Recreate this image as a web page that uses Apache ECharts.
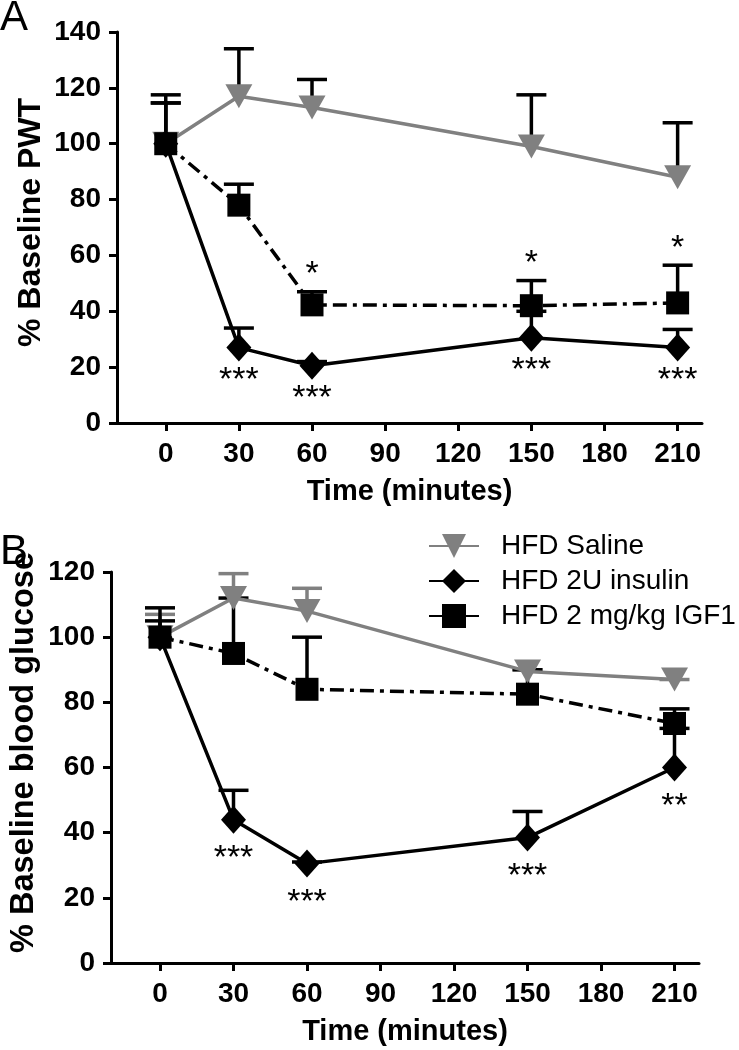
<!DOCTYPE html>
<html>
<head>
<meta charset="utf-8">
<script src="https://cdn.jsdelivr.net/npm/echarts@6/dist/echarts.min.js"></script>
<style>
html,body{margin:0;padding:0;background:#fff;}
#chart{width:739px;height:1050px;}
</style>
</head>
<body>
<div id="chart"></div>
<script>
// ---- Data ----
const times = [0, 30, 60, 150, 210];
const xTicks = [0, 30, 60, 90, 120, 150, 180, 210];
const seriesNames = ['HFD Saline', 'HFD 2U insulin', 'HFD 2 mg/kg IGF1'];

// Panel A: % Baseline PWT (mean, upper error)
const salineA = [100, 117, 113, 99, 88];
const salineAErr = [114.6, 134, 123, 117.5, 107.5];
const insulinA = [100, 27, 20.5, 30.5, 27];
const insulinAErr = [117.5, 34, 22, 40, 33.5];
const igfA = [100, 78, 42.3, 42, 43];
const igfAErr = [114.6, 85.5, 47, 51, 56.5];
const starsAInsulin = ['', '***', '***', '***', '***'];
const starsAIgf = ['', '', '*', '*', '*'];

// Panel B: % Baseline blood glucose
const salineB = [100, 112, 108, 89.5, 87];
const salineBErr = [107, 119.5, 115, 90, 87];
const insulinB = [100, 44, 30.5, 38.5, 60];
const insulinBErr = [109, 53, 31, 46.5, 72];
const igfB = [100, 95, 84, 82.5, 73.5];
const igfBErr = [105, 112, 100, 90, 78];
const starsBInsulin = ['', '***', '***', '***', '**'];

const yTicksA = {min: 0, max: 140, interval: 20};
const yTicksB = {min: 0, max: 120, interval: 20};

// ---- Styles ----
const FONT = 'Liberation Sans, Arial, sans-serif';
const GRAY = '#808080';
const BLACK = '#000000';

function xAxisDef(gi){
  return {
    gridIndex: gi, type: 'value', min: -20, max: 220,
    axisLine: {show: true, onZero: false, lineStyle: {color: BLACK, width: 3}},
    axisTick: {show: true, interval: 0, customValues: xTicks, length: 8, lineStyle: {color: BLACK, width: 3}},
    axisLabel: {interval: 0, hideOverlap: false, customValues: xTicks, color: BLACK, fontSize: 28, fontWeight: 'bold', fontFamily: FONT, margin: 17},
    splitLine: {show: false},
    name: 'Time (minutes)', nameLocation: 'middle', nameGap: 54,
    nameTextStyle: {color: BLACK, fontSize: 29, fontWeight: 'bold', fontFamily: FONT}
  };
}
function yAxisDef(gi, t, name, fs, shiftPad){
  return {
    gridIndex: gi, type: 'value', min: t.min, max: t.max, interval: t.interval,
    axisLine: {show: true, onZero: false, lineStyle: {color: BLACK, width: 3}},
    axisTick: {show: true, length: 8, lineStyle: {color: BLACK, width: 3}},
    axisLabel: {color: BLACK, fontSize: 28, fontWeight: 'bold', fontFamily: FONT, margin: 16},
    splitLine: {show: false},
    name: name, nameLocation: 'middle', nameGap: 70, nameRotate: 90, nameMoveOverlap: false,
    nameTextStyle: {color: BLACK, fontSize: fs, fontWeight: 'bold', fontFamily: FONT, padding: [0, 0, 0, shiftPad]}
  };
}

function pts(vals){ return times.map((t, i) => [t, vals[i]]); }
function errPts(vals, errs){ return times.map((t, i) => [t, vals[i], errs[i]]); }

function errSeries(gi, vals, errs, color, z){
  return {
    type: 'custom', xAxisIndex: gi, yAxisIndex: gi, z: z, silent: true,
    data: errPts(vals, errs),
    renderItem: function(params, api){
      const p = api.coord([api.value(0), api.value(1)]);
      const q = api.coord([api.value(0), api.value(2)]);
      return {type: 'group', children: [
        {type: 'line', shape: {x1: p[0], y1: p[1], x2: q[0], y2: q[1]}, style: {stroke: color, lineWidth: 3.5}},
        {type: 'line', shape: {x1: q[0] - 15, y1: q[1], x2: q[0] + 15, y2: q[1]}, style: {stroke: color, lineWidth: 3.5}}
      ]};
    }
  };
}

function starSeries(gi, anchorVals, labels, dy){
  return {
    type: 'custom', xAxisIndex: gi, yAxisIndex: gi, z: 10, silent: true,
    data: pts(anchorVals),
    renderItem: function(params, api){
      const p = api.coord([api.value(0), api.value(1)]);
      return {type: 'text', x: p[0], y: p[1] + dy, style: {
        text: labels[params.dataIndex], fill: BLACK, font: '34px ' + FONT,
        align: 'center', verticalAlign: 'middle'
      }};
    }
  };
}

function lineSeries(gi, name, vals, kind, z){
  const base = {type: 'line', name: name, xAxisIndex: gi, yAxisIndex: gi, z: z,
    data: pts(vals), showSymbol: true, animation: false};
  if (kind === 'saline') {
    return Object.assign(base, {symbol: 'triangle', symbolRotate: 180, symbolSize: [27, 24],
      lineStyle: {color: GRAY, width: 3.5}, itemStyle: {color: GRAY}});
  }
  if (kind === 'insulin') {
    return Object.assign(base, {symbol: 'diamond', symbolSize: [25, 28],
      lineStyle: {color: BLACK, width: 3.5}, itemStyle: {color: BLACK}});
  }
  return Object.assign(base, {symbol: 'rect', symbolSize: 23,
    lineStyle: {color: BLACK, width: 3.5, type: [14, 6, 4, 6]}, itemStyle: {color: BLACK}});
}

const option = {
  animation: false,
  backgroundColor: '#fff',
  grid: [
    {left: 117, top: 32, width: 585, height: 391},
    {left: 110, top: 572, width: 589, height: 391}
  ],
  xAxis: [xAxisDef(0), xAxisDef(1)],
  yAxis: [yAxisDef(0, yTicksA, '% Baseline PWT', 32, 10), yAxisDef(1, yTicksB, '% Baseline blood glucose', 32.5, 30)],
  legend: {
    orient: 'vertical', left: 428, top: 532, itemWidth: 50, itemHeight: 30, itemGap: 7,
    selectedMode: false, padding: 0,
    textStyle: {color: BLACK, fontSize: 28, fontFamily: FONT, padding: [0, 0, 0, 17], overflow: 'none'},
    data: [
      {name: seriesNames[0]},
      {name: seriesNames[1]},
      {name: seriesNames[2], lineStyle: {type: 'solid'}}
    ]
  },
  graphic: [
    {type: 'text', left: 0, top: -3, style: {text: 'A', font: '42px ' + FONT, fill: BLACK}},
    {type: 'text', left: 0, top: 531, style: {text: 'B', font: '42px ' + FONT, fill: BLACK}}
  ],
  series: [
    // Panel A
    errSeries(0, salineA, salineAErr, BLACK, 1),
    errSeries(0, insulinA, insulinAErr, BLACK, 1),
    errSeries(0, igfA, igfAErr, BLACK, 1),
    lineSeries(0, seriesNames[0], salineA, 'saline', 2),
    lineSeries(0, seriesNames[1], insulinA, 'insulin', 3),
    lineSeries(0, seriesNames[2], igfA, 'igf', 4),
    starSeries(0, insulinA, starsAInsulin, 33),
    starSeries(0, igfAErr, starsAIgf, -17),
    // Panel B
    errSeries(1, salineB, salineBErr, GRAY, 1),
    errSeries(1, insulinB, insulinBErr, BLACK, 1),
    errSeries(1, igfB, igfBErr, BLACK, 1),
    lineSeries(1, seriesNames[0], salineB, 'saline', 2),
    lineSeries(1, seriesNames[1], insulinB, 'insulin', 3),
    lineSeries(1, seriesNames[2], igfB, 'igf', 4),
    starSeries(1, insulinB, starsBInsulin, 39)
  ]
};

const chart = echarts.init(document.getElementById('chart'), null, {renderer: 'canvas'});
chart.setOption(option);
</script>
</body>
</html>
